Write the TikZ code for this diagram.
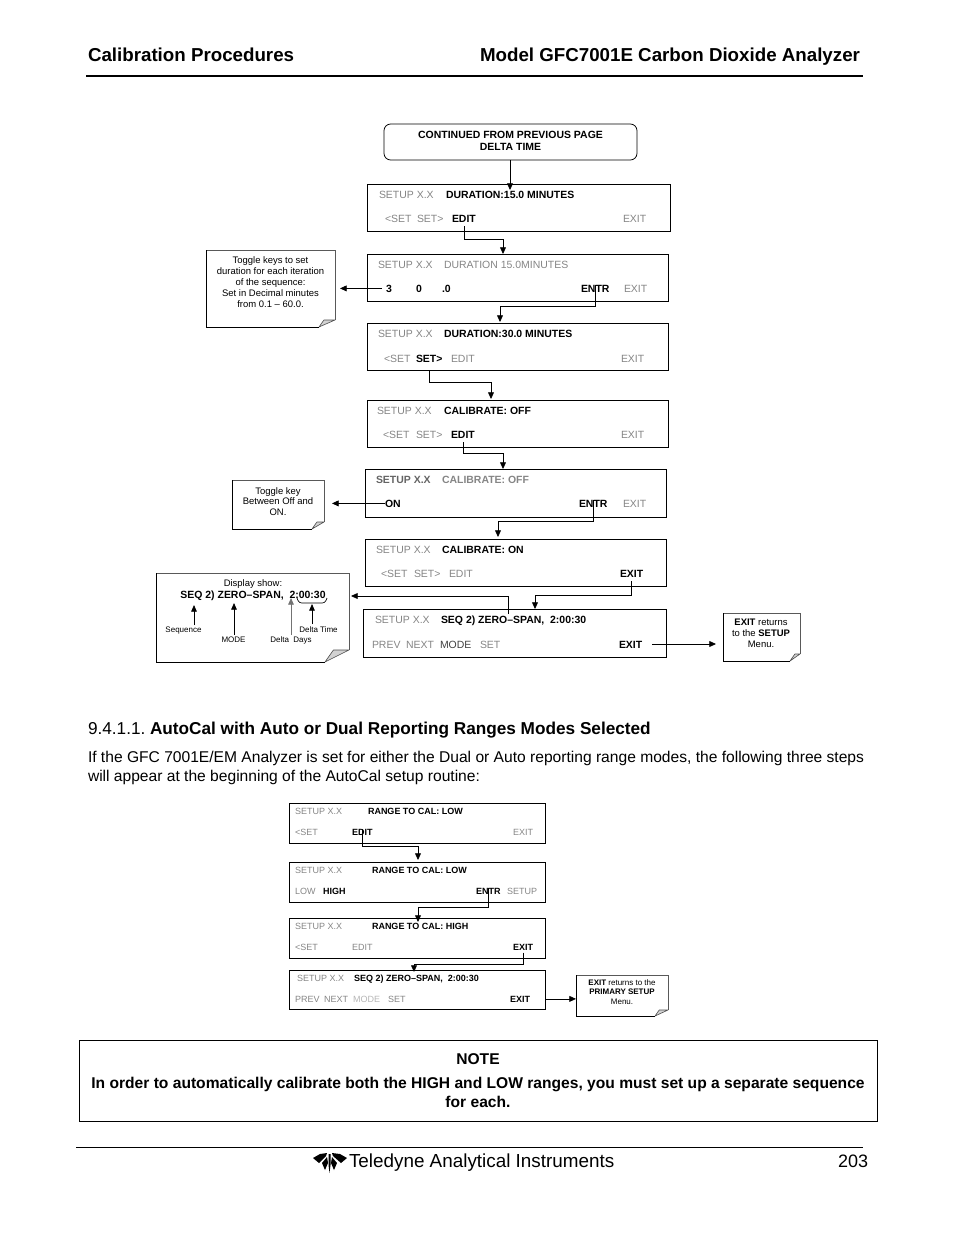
\documentclass[tikz,border=0pt]{standalone}
\usepackage{fontspec}
\setmainfont{Liberation Sans}
\usetikzlibrary{fit,arrows.meta}
\definecolor{gt}{HTML}{858585}
\tikzset{
 x=0.75pt,y=-0.75pt,
 lab/.style={anchor=base west,inner sep=0pt,outer sep=0pt},
 ctr/.style={anchor=base,inner sep=0pt,outer sep=0pt,align=center},
 big/.style={font=\fontsize{7.85}{9}\selectfont},
 small/.style={font=\fontsize{6.75}{8}\selectfont},
 gr/.style={text=gt},
 grb/.style={text=gt,font=\fontsize{7.85}{9}\bfseries\selectfont},
 bd/.style={text=black,font=\fontsize{7.85}{9}\bfseries\selectfont},
 sgr/.style={text=gt,font=\fontsize{6.75}{8}\selectfont},
 sbd/.style={text=black,font=\fontsize{6.75}{8}\bfseries\selectfont},
 scr/.style={draw=black,line width=0.6pt,inner sep=0pt,outer sep=0pt},
 hold/.style={inner sep=0pt,outer sep=0pt},
 conn/.style={draw=black,line width=0.6pt,-{Triangle[length=5pt,width=4.4pt]}},
 ntxt/.style={ctr,font=\fontsize{7.1}{8}\selectfont},
 tiny lab/.style={ctr,font=\fontsize{6}{7}\selectfont},
 title/.style={lab,font=\fontsize{14.05}{16}\bfseries\selectfont},
 body/.style={lab,font=\fontsize{11.7}{14}\selectfont},
 notet/.style={ctr,font=\fontsize{11.7}{14}\bfseries\selectfont},
 rulex/.style={line width=0.95pt,draw=black},
 iconn/.style={draw=black,line width=0.6pt,-{Triangle[length=5pt,width=4.2pt]}},
}
\newcommand\scrbox[5]{\node[scr,fit={(#2,#3)(#4,#5)}] (#1) {};}
\newcommand\notebox[7]{%
 \node[hold,fit={(#2,#3)(#4,#5)}] (#1) {};
 \draw[draw=gray!70!black,line width=0.6pt] (#2,#3) -- (#4,#3) -- ({#4},{#5-#7});
 \draw[black,line width=0.6pt] (#2,#3) -- (#2,#5) -- ({#4-#6},#5);
 \draw[draw=black!70,fill=gray!35,line width=0.45pt,line join=round] ({#4-#6},#5) -- ({#4-#6+#7*0.7},{#5-#7}) -- ({#4},{#5-#7}) -- cycle;
}
\begin{document}
\begin{tikzpicture}
\useasboundingbox (0,0) rectangle (954,1235);
% header
\node[title] (h1) at (88,61) {Calibration Procedures};
\node[title] (h2) at (480,61) {Model GFC7001E Carbon Dioxide Analyzer};
\coordinate (hl) at (86,76); \coordinate (hr) at (863,76);
\draw[rulex] (hl) -- (hr);
% top box
\node[draw=black,line width=0.6pt,rounded corners=5pt,inner sep=0pt,fit={(384,124)(637,160)}] (top) {};
\node[ctr,font=\fontsize{7.85}{9}\bfseries\selectfont] (t1) at (510.5,138) {CONTINUED FROM PREVIOUS PAGE};
\node[ctr,font=\fontsize{7.85}{9}\bfseries\selectfont] (t2) at (510.5,150) {DELTA TIME};
% screens
\scrbox{s1}{367}{184}{670}{231}
\node[lab,big,gr] (s1a) at (379,198) {SETUP X.X};
\node[lab,bd] (s1b) at (446,198) {DURATION:15.0 MINUTES};
\node[lab,big,gr] (s1c) at (385,222) {<SET};
\node[lab,big,gr] (s1d) at (417,222) {SET>};
\node[lab,bd] (s1e) at (452,222) {EDIT};
\node[lab,big,gr] (s1f) at (623,222) {EXIT};
\scrbox{s2}{367}{254}{668}{301}
\node[lab,big,gr] (s2a) at (378,268) {SETUP X.X};
\node[lab,big,gr] (s2b) at (444,268) {DURATION 15.0MINUTES};
\node[lab,bd] (s2c) at (386,292) {3};
\node[lab,bd] (s2d) at (416,292) {0};
\node[lab,bd] (s2e) at (442,292) {.0};
\node[lab,bd] (s2f) at (581,292) {ENTR};
\node[lab,big,gr] (s2g) at (624,292) {EXIT};
\scrbox{s3}{367}{323}{668}{370}
\node[lab,big,gr] (s3a) at (378,337) {SETUP X.X};
\node[lab,bd] (s3b) at (444,337) {DURATION:30.0 MINUTES};
\node[lab,big,gr] (s3c) at (384,362) {<SET};
\node[lab,bd] (s3d) at (416,362) {SET>};
\node[lab,big,gr] (s3e) at (451,362) {EDIT};
\node[lab,big,gr] (s3f) at (621,362) {EXIT};
\scrbox{s4}{367}{400}{668}{447}
\node[lab,big,gr] (s4a) at (377,414) {SETUP X.X};
\node[lab,bd] (s4b) at (444,414) {CALIBRATE: OFF};
\node[lab,big,gr] (s4c) at (383,438) {<SET};
\node[lab,big,gr] (s4d) at (416,438) {SET>};
\node[lab,bd] (s4e) at (451,438) {EDIT};
\node[lab,big,gr] (s4f) at (621,438) {EXIT};
\scrbox{s5}{365}{469}{666}{517}
\node[lab,grb,text=gt!75!black] (s5a) at (376,483) {SETUP X.X};
\node[lab,grb] (s5b) at (442,483) {CALIBRATE: OFF};
\node[lab,bd] (s5c) at (385,507) {ON};
\node[lab,bd] (s5d) at (579,507) {ENTR};
\node[lab,big,gr] (s5e) at (623,507) {EXIT};
\scrbox{s6}{365}{539}{666}{586}
\node[lab,big,gr] (s6a) at (376,553) {SETUP X.X};
\node[lab,bd] (s6b) at (442,553) {CALIBRATE: ON};
\node[lab,big,gr] (s6c) at (381,577) {<SET};
\node[lab,big,gr] (s6d) at (414,577) {SET>};
\node[lab,big,gr] (s6e) at (449,577) {EDIT};
\node[lab,bd] (s6f) at (620,577) {EXIT};
\scrbox{s7}{363}{609}{666}{657}
\node[lab,big,gr] (s7a) at (375,623) {SETUP X.X};
\node[lab,bd] (s7b) at (441,623) {SEQ 2) ZERO–SPAN,\ \ 2:00:30};
\node[lab,big,gr] (s7c) at (372,648) {PREV};
\node[lab,big,gr] (s7d) at (406,648) {NEXT};
\node[lab,big,text=black!75] (s7e) at (440,648) {MODE};
\node[lab,big,gr] (s7f) at (480,648) {SET};
\node[lab,bd] (s7g) at (619,648) {EXIT};
% notes
\notebox{n1}{206}{250}{335}{327}{16}{7}
\node[ntxt] (n1a) at (270.5,263) {Toggle keys to set};
\node[ntxt] (n1b) at (270.5,274) {duration for each iteration};
\node[ntxt] (n1c) at (270.5,285) {of the sequence:};
\node[ntxt] (n1d) at (270.5,296) {Set in Decimal minutes};
\node[ntxt] (n1e) at (270.5,307) {from 0.1 – 60.0.};
\notebox{n2}{232}{480}{324}{529}{12}{7}
\node[ntxt] (n2a) at (278,494) {Toggle key};
\node[ntxt] (n2b) at (278,504) {Between Off and};
\node[ntxt] (n2c) at (278,515) {ON.};
\notebox{n3}{156}{573}{349}{662}{24}{12}
\node[ntxt] (n3a) at (253,586) {Display show:};
\node[ctr,font=\fontsize{7.85}{9}\bfseries\selectfont] (n3b) at (253,598) {SEQ 2) ZERO–SPAN,\ \ 2:00:30};
\node[tiny lab] (n3c) at (183.5,632) {Sequence};
\node[tiny lab] (n3d) at (233.5,642) {MODE};
\node[tiny lab] (n3e) at (291,642) {Delta\ \ Days};
\node[tiny lab] (n3f) at (318.5,632) {Delta Time};
\notebox{n4}{723}{613}{800}{661}{10}{7}
\node[ntxt] (n4a) at (761,625) {\textbf{EXIT} returns};
\node[ntxt] (n4b) at (761,636) {to the \textbf{SETUP}};
\node[ntxt] (n4c) at (761,647) {Menu.};
% note-internal connectors
\coordinate (q1) at (194,625); \coordinate (q2) at (234,635);
\coordinate (q3) at (291,635); \coordinate (q4) at (312,624);
\coordinate (q5) at (297,598); \coordinate (q6) at (327,598);
\draw[iconn] (q1) -- (194,605);
\draw[iconn] (q2) -- (234,603);
\draw[iconn,draw=gray!90!black] (q3) -- (291,598);
\draw[iconn] (q4) -- (312,604);
\draw[draw=black,line width=0.5pt,rounded corners=2pt] (q5) -- (299,603) -- (325,603) -- (q6);
% connectors
\draw[conn] (510,160) -- (510,190);
\draw[conn] ([yshift=-3pt]s1e.south) -- (s1e.south |- 0,239) -| (503,0 |- s2.north);
\draw[conn] ([xshift=-3pt]s2c.west) -- (340,0 |- s2c.west);
\draw[conn] (s2f.north) -- (s2f.north |- 0,306) -| (500,322);
\draw[conn] (s3d |- s3.south) -- (s3d |- 0,382) -| (491,399);
\draw[conn] ([yshift=-3pt]s4e.south) -- (s4e.south |- 0,453) -| (503,0 |- s5.north);
\draw[conn] (s5c.west) -- (332,0 |- s5c.west);
\draw[conn] (s5d.north) -- (s5d.north |- 0,521) -| (498,537);
\draw[conn] ([yshift=-3pt]s6f.south) -- (s6f.south |- 0,595) -| (535,0 |- s7.north);
\coordinate (j1) at (508,614);
\draw[conn] (j1) |- (351,596);
\coordinate (j2) at (652,644);
\draw[conn] (j2) -- (716,0 |- j2);
% section text
\node[lab,font=\fontsize{12.9}{14}\selectfont] (sec) at (88,734) {9.4.1.1.};
\node[lab,font=\fontsize{12.9}{14}\bfseries\selectfont] (sect) at (150,734) {AutoCal with Auto or Dual Reporting Ranges Modes Selected};
\node[body] (b1) at (88,762) {If the GFC 7001E/EM Analyzer is set for either the Dual or Auto reporting range modes, the following three steps};
\node[body] (b2) at (88,781) {will appear at the beginning of the AutoCal setup routine:};
% lower screens
\scrbox{l1}{289}{803}{545}{843}
\node[lab,sgr] (l1a) at (295,814) {SETUP X.X};
\node[lab,sbd] (l1b) at (368,814) {RANGE TO CAL: LOW};
\node[lab,sgr] (l1c) at (295,835) {<SET};
\node[lab,sbd] (l1d) at (352,835) {EDIT};
\node[lab,sgr] (l1e) at (513,835) {EXIT};
\scrbox{l2}{289}{862}{545}{902}
\node[lab,sgr] (l2a) at (295,873) {SETUP X.X};
\node[lab,sbd] (l2b) at (372,873) {RANGE TO CAL: LOW};
\node[lab,sgr] (l2c) at (295,894) {LOW};
\node[lab,sbd] (l2d) at (323,894) {HIGH};
\node[lab,sbd] (l2e) at (476,894) {ENTR};
\node[lab,sgr] (l2f) at (507,894) {SETUP};
\scrbox{l3}{289}{918}{545}{958}
\node[lab,sgr] (l3a) at (295,929) {SETUP X.X};
\node[lab,sbd] (l3b) at (372,929) {RANGE TO CAL: HIGH};
\node[lab,sgr] (l3c) at (295,950) {<SET};
\node[lab,sgr] (l3d) at (352,950) {EDIT};
\node[lab,sbd] (l3e) at (513,950) {EXIT};
\scrbox{l4}{289}{970}{545}{1009}
\node[lab,sgr] (l4a) at (297,981) {SETUP X.X};
\node[lab,sbd] (l4b) at (354,981) {SEQ 2) ZERO–SPAN,\ \ 2:00:30};
\node[lab,sgr] (l4c) at (295,1002) {PREV};
\node[lab,sgr] (l4d) at (324,1002) {NEXT};
\node[lab,sgr,text=gt!60] (l4e) at (353,1002) {MODE};
\node[lab,sgr] (l4f) at (388,1002) {SET};
\node[lab,sbd] (l4g) at (510,1002) {EXIT};
\notebox{n5}{576}{975}{668}{1016}{13}{6}
\node[ctr,font=\fontsize{6}{7}\selectfont] (n5a) at (622,985) {\textbf{EXIT} returns to the};
\node[ctr,font=\fontsize{6}{7}\selectfont] (n5b) at (622,994) {\textbf{PRIMARY SETUP}};
\node[ctr,font=\fontsize{6}{7}\selectfont] (n5c) at (622,1004) {Menu.};
\draw[conn] (l1d.north) -- (l1d.north |- 0,846) -| (418,860);
\draw[conn] (l2e.north) -- (l2e.north |- 0,907) -| (418,922);
\draw[conn] ([yshift=-2pt]l3e.south) -- (l3e.south |- 0,964) -| (414,972);
\draw[conn] (l4.east |- l4g.west) -- (n5.west |- l4g.west);
% note box
\node[draw=black,line width=0.6pt,inner sep=0pt,fit={(79,1040)(877,1121)}] (nb) {};
\node[notet] (nb1) at (478,1064) {NOTE};
\node[notet] (nb2) at (478,1088) {In order to automatically calibrate both the HIGH and LOW ranges, you must set up a separate sequence};
\node[notet] (nb3) at (478,1107) {for each.};
% footer
\coordinate (fl) at (76,1147); \coordinate (fr) at (863,1147);
\draw[draw=black,line width=0.7pt] (fl) -- (fr);
\fill[black] (313,1158) -- (320,1154) -- (327,1153) -- (326,1156) -- (319,1163) -- cycle;
\fill[black] (347,1158) -- (340,1154) -- (332,1153) -- (333,1156) -- (341,1163) -- cycle;
\fill[black] (327,1157) -- (322,1163) -- (325,1170) -- (328,1163) -- cycle;
\fill[black] (332,1157) -- (337,1163) -- (334,1170) -- (331,1163) -- cycle;
\fill[black] (328.5,1154) -- (330.5,1154) -- (330.5,1165) -- (329.5,1173) -- (328.5,1165) -- cycle;
\node[lab,font=\fontsize{14.15}{16}\selectfont] (f1) at (349,1167.5) {Teledyne Analytical Instruments};
\node[lab,font=\fontsize{13.5}{16}\selectfont] (f2) at (838,1167.5) {203};
\end{tikzpicture}
\end{document}
